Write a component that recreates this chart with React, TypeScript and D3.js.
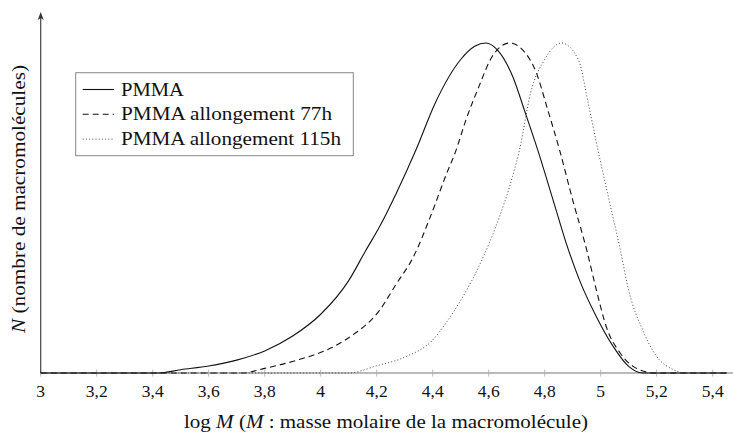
import { useEffect } from 'react';
import * as d3 from 'd3';

type Pt = [number, number];

// log M, normalised N
const pmma: Pt[] = [
  [3.0, 0], [3.42, 0], [3.5, 0.01], [3.6, 0.021], [3.7, 0.039], [3.8, 0.067],
  [3.9, 0.112], [4.0, 0.178], [4.1, 0.28], [4.16, 0.37], [4.21, 0.443],
  [4.27, 0.545], [4.34, 0.676], [4.41, 0.82], [4.5, 0.95], [4.55, 0.99],
  [4.59, 1.0], [4.63, 0.98], [4.685, 0.9], [4.73, 0.79], [4.775, 0.676],
  [4.83, 0.524], [4.877, 0.393], [4.925, 0.28], [4.985, 0.17], [5.045, 0.08],
  [5.1, 0.02], [5.15, 0], [5.45, 0],
];

const pmma77: Pt[] = [
  [3.0, 0], [3.72, 0], [3.8, 0.014], [3.92, 0.04], [4.04, 0.077], [4.1, 0.107],
  [4.21, 0.19], [4.27, 0.27], [4.33, 0.35], [4.39, 0.47], [4.45, 0.605],
  [4.48, 0.667], [4.52, 0.77], [4.566, 0.87], [4.613, 0.96], [4.675, 1.0],
  [4.72, 0.98], [4.77, 0.91], [4.81, 0.8], [4.853, 0.676], [4.9, 0.524],
  [4.95, 0.373], [4.985, 0.25], [5.02, 0.14], [5.07, 0.06], [5.116, 0.02],
  [5.19, 0], [5.45, 0],
];

const pmma115: Pt[] = [
  [3.0, 0], [4.1, 0], [4.2, 0.022], [4.3, 0.048], [4.4, 0.1], [4.45, 0.155],
  [4.507, 0.23], [4.566, 0.325], [4.637, 0.47], [4.685, 0.595], [4.71, 0.676],
  [4.75, 0.85], [4.8, 0.95], [4.86, 1.0], [4.92, 0.95], [4.955, 0.82],
  [4.99, 0.676], [5.03, 0.524], [5.07, 0.373], [5.1, 0.25], [5.15, 0.13],
  [5.2, 0.05], [5.26, 0.01], [5.3, 0], [5.45, 0],
];

const xTicks = [3, 3.2, 3.4, 3.6, 3.8, 4, 4.2, 4.4, 4.6, 4.8, 5, 5.2, 5.4];
const legendLabels = ['PMMA', 'PMMA allongement 77h', 'PMMA allongement 115h'];
const legendWidths = [63, 211, 220]; // LaTeX fonts run wider than Times
const dashes = [null, '6,4', '1,2.2'];

const W = 733;
const H = 432;
const serif = "'Liberation Serif', 'Times New Roman', 'DejaVu Serif', serif";

export default function App() {
  useEffect(() => {
    document.body.style.margin = '0';
  }, []);

  const x = d3.scaleLinear().domain([3, 5.45]).range([40.7, 726.7]);
  const y = d3.scaleLinear().domain([0, 1]).range([373, 43]);
  const line = d3
    .line<Pt>()
    .x((d) => x(d[0]))
    .y((d) => y(d[1]))
    .curve(d3.curveMonotoneX);

  const series = [pmma, pmma77, pmma115];
  const fmt = (v: number) => String(+v.toFixed(1)).replace('.', ',');

  const x0 = x(3);
  const yBase = y(0);
  const txt = { fontFamily: serif, fill: '#111' };

  return (
    <svg width={W} height={H} style={{ display: 'block', background: '#fff' }}>
      {/* x axis */}
      <line x1={x0} x2={W} y1={yBase} y2={yBase} stroke="#777" strokeWidth={1.2} />
      {xTicks.map((t) => (
        <g key={t} transform={`translate(${x(t)},0)`}>
          <line y1={yBase - 3.5} y2={yBase + 3.5} stroke="#aaa" strokeWidth={0.8} />
          <text y={yBase + 24} textAnchor="middle" style={{ ...txt, fontSize: 17.5 }}>
            {fmt(t)}
          </text>
        </g>
      ))}
      {/* y axis with arrow */}
      <line x1={x0} x2={x0} y1={yBase} y2={18} stroke="#444" strokeWidth={1.2} />
      <path d={`M${x0 - 3},${20} L${x0},${12} L${x0 + 3},${20} L${x0},${18} Z`} fill="#333" />

      {series.map((s, i) => (
        <path
          key={i}
          d={line(s) ?? ''}
          fill="none"
          stroke={i === 2 ? '#444' : '#111'}
          strokeWidth={i === 2 ? 1 : 1.1}
          strokeDasharray={dashes[i] ?? undefined}
        />
      ))}

      {/* legend */}
      <g>
        <rect x={75.7} y={72.7} width={277.6} height={83} fill="#fff" stroke="#888" strokeWidth={1} />
        {legendLabels.map((lbl, i) => {
          const ly = 89.5 + i * 24.8;
          return (
            <g key={lbl}>
              <line
                x1={82.7}
                x2={114}
                y1={ly}
                y2={ly}
                stroke={i === 2 ? '#444' : '#111'}
                strokeWidth={i === 2 ? 1 : 1.1}
                strokeDasharray={dashes[i] ?? undefined}
              />
              <text
                x={121}
                y={ly + 6}
                textLength={legendWidths[i]}
                lengthAdjust="spacingAndGlyphs"
                style={{ ...txt, fontSize: 18.5 }}
              >
                {lbl}
              </text>
            </g>
          );
        })}
      </g>

      {/* axis titles */}
      <text
        x={386}
        y={428}
        textAnchor="middle"
        textLength={404}
        lengthAdjust="spacingAndGlyphs"
        style={{ ...txt, fontSize: 19 }}
      >
        log <tspan fontStyle="italic">M</tspan> (<tspan fontStyle="italic">M</tspan> : masse molaire de la macromolécule)
      </text>
      <text
        transform="translate(25,199) rotate(-90)"
        textAnchor="middle"
        textLength={268}
        lengthAdjust="spacingAndGlyphs"
        style={{ ...txt, fontSize: 19 }}
      >
        <tspan fontStyle="italic">N</tspan> (nombre de macromolécules)
      </text>
    </svg>
  );
}
